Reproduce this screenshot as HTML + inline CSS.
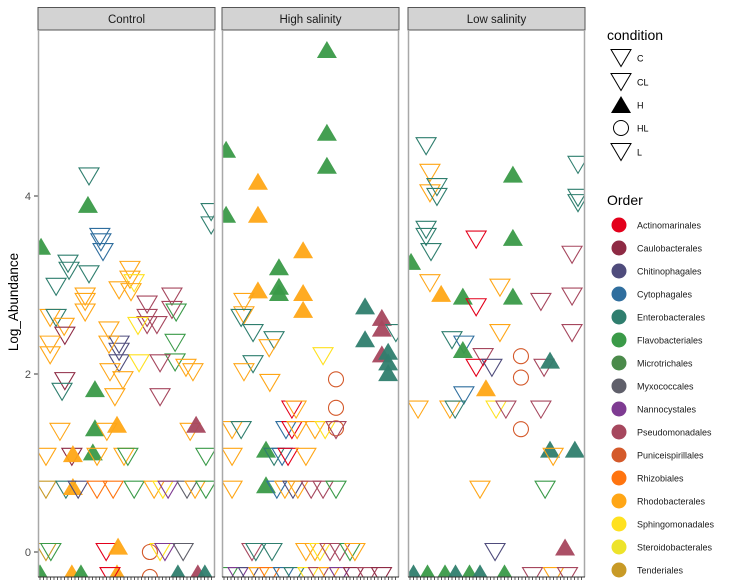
<!DOCTYPE html>
<html><head><meta charset="utf-8">
<style>body{margin:0;background:#fff}svg{display:block;font-family:"Liberation Sans",sans-serif}</style>
</head><body>
<svg id="chart" width="732" height="588" viewBox="0 0 732 588" xmlns="http://www.w3.org/2000/svg"></svg>
<script>
const panels = ["Control","High salinity","Low salinity"];
const orders = ["Actinomarinales","Caulobacterales","Chitinophagales","Cytophagales","Enterobacterales","Flavobacteriales","Microtrichales","Myxococcales","Nannocystales","Pseudomonadales","Puniceispirillales","Rhizobiales","Rhodobacterales","Sphingomonadales","Steroidobacterales","Tenderiales"];
const orderCodes = ["A","Ca","Ch","Cy","E","F","Mi","My","N","P","Pu","Rz","Rb","S","St","T"];
const conditions = ["C","CL","H","HL","L"];
const yTicks = [0,2,4];
const pointPanel = [];
const pointSample = [];
const pointValue = [];
const pointCond = [];
const pointOrder = [];
const raw = [
[0,14,4.22,"C","E"],[0,13.7,3.9,"H","F"],[0,0.3,3.43,"H","F"],[0,48.9,3.82,"C","E"],[0,48.9,3.67,"C","E"],
[0,17.1,3.54,"C","Cy"],[0,17.4,3.48,"C","Cy"],[0,18,3.37,"C","Cy"],[0,8,3.24,"C","E"],[0,8.3,3.16,"C","E"],
[0,14,3.12,"C","E"],[0,4.6,2.98,"C","E"],[0,25.7,3.17,"C","Rb"],[0,25.7,3.06,"C","Rb"],[0,26.9,3.02,"C","S"],
[0,22.6,2.94,"C","Rb"],[0,26,2.92,"C","Rb"],[0,12.9,2.87,"C","Rb"],[0,12.9,2.81,"C","Rb"],[0,12.9,2.69,"C","Rb"],
[0,30.6,2.78,"C","P"],[0,30.6,2.63,"C","P"],[0,30.6,2.55,"C","P"],[0,37.7,2.87,"C","P"],[0,37.7,2.72,"C","P"],
[0,38.9,2.69,"C","F"],[0,33.4,2.55,"C","P"],[0,2.9,2.63,"C","Rb"],[0,4.6,2.63,"C","E"],[0,6.9,2.53,"C","Rb"],
[0,7.1,2.43,"C","Ca"],[0,19.7,2.49,"C","Rb"],[0,28,2.54,"C","S"],[0,22.6,2.33,"C","Ch"],[0,22.6,2.25,"C","Ch"],
[0,22.6,2.12,"C","Ch"],[0,28.3,2.12,"C","S"],[0,19.7,2.33,"C","Rb"],[0,2.9,2.33,"C","Rb"],[0,2.9,2.21,"C","Rb"],
[0,38.6,2.35,"C","F"],[0,38.6,2.13,"C","F"],[0,34.3,2.12,"C","P"],[0,41.7,2.07,"C","Rb"],[0,43.7,2.02,"C","Rb"],
[0,20,2.02,"C","Rb"],[0,23.7,1.93,"C","Rb"],[0,7.1,1.92,"C","Ca"],[0,6.3,1.8,"C","E"],[0,15.7,1.83,"H","F"],
[0,21.4,1.74,"C","Rb"],[0,34.3,1.74,"C","P"],[0,5.7,1.35,"C","Rb"],[0,15.7,1.39,"H","F"],[0,22,1.43,"H","Rb"],
[0,19.1,1.35,"C","Rb"],[0,42.9,1.35,"C","Rb"],[0,44.6,1.43,"H","P"],
[0,1.7,1.07,"C","Rb"],[0,9.1,1.07,"C","Ca"],[0,9.4,1.1,"H","Rb"],[0,15.1,1.12,"H","F"],[0,16.3,1.07,"C","Rb"],
[0,24,1.07,"C","Rb"],[0,25.1,1.07,"C","F"],[0,47.4,1.07,"C","F"],
[0,1.7,0.7,"C","T"],[0,7.4,0.7,"C","E"],[0,9.4,0.73,"H","Rb"],[0,10.9,0.7,"C","Ch"],[0,16.3,0.7,"C","Rz"],
[0,20.9,0.7,"C","Rz"],[0,26.9,0.7,"C","F"],[0,32.6,0.7,"C","Rb"],[0,35.1,0.7,"C","S"],[0,36.6,0.7,"C","N"],
[0,42,0.7,"C","My"],[0,44.3,0.7,"C","Rb"],[0,47.4,0.7,"C","F"],
[0,1.7,0,"C","T"],[0,3.1,0,"C","F"],[0,18.9,0,"C","A"],[0,22.3,0.06,"H","Rb"],[0,31.4,0,"HL","Pu"],
[0,34.3,0,"C","S"],[0,35.7,0,"C","N"],[0,40.9,0,"C","My"],
[0,0,-0.24,"H","F"],[0,9.1,-0.24,"H","Rb"],[0,11.7,-0.24,"H","F"],[0,22,-0.24,"H","Rb"],[0,20,-0.27,"C","A"],
[0,31.4,-0.28,"HL","Pu"],[0,39.4,-0.24,"H","E"],[0,45.1,-0.24,"H","P"],[0,47.1,-0.24,"H","E"],
[1,29.4,5.64,"H","F"],[1,29.4,4.71,"H","F"],[1,29.4,4.34,"H","F"],[1,0.6,4.52,"H","F"],[1,0.6,3.79,"H","F"],
[1,9.7,4.16,"H","Rb"],[1,9.7,3.79,"H","Rb"],[1,22.6,3.39,"H","Rb"],[1,15.7,3.2,"H","F"],[1,15.7,2.98,"H","F"],
[1,15.7,2.91,"H","F"],[1,9.7,2.94,"H","Rb"],[1,22.6,2.91,"H","Rb"],[1,22.6,2.72,"H","Rb"],
[1,5.7,2.81,"C","Rb"],[1,5.7,2.66,"C","Rb"],[1,4.9,2.63,"C","E"],[1,8.3,2.46,"C","E"],[1,14.3,2.38,"C","E"],
[1,12.9,2.29,"C","Rb"],[1,8.3,2.11,"C","E"],[1,5.7,2.02,"C","Rb"],[1,28.3,2.2,"C","S"],[1,13.1,1.9,"C","Rb"],
[1,32,1.94,"HL","Pu"],[1,32,1.62,"HL","Pu"],[1,32,1.39,"HL","Pu"],[1,19.4,1.6,"C","A"],[1,20.6,1.6,"C","Rb"],
[1,2.3,1.37,"C","Rb"],[1,4.9,1.37,"C","E"],[1,17.7,1.37,"C","Cy"],[1,19.4,1.37,"C","A"],[1,20.9,1.37,"C","Rb"],
[1,26,1.37,"C","Rb"],[1,28.9,1.37,"C","S"],[1,32,1.37,"C","P"],
[1,40.3,2.76,"H","E"],[1,40.3,2.39,"H","E"],[1,45.1,2.63,"H","P"],[1,45.1,2.51,"H","P"],[1,45.1,2.22,"H","P"],
[1,46.9,2.25,"H","E"],[1,46.9,2.13,"H","E"],[1,46.9,2.01,"H","E"],[1,49.1,2.46,"C","E"],
[1,2.3,1.07,"C","Rb"],[1,12,1.15,"H","F"],[1,14.3,1.07,"C","E"],[1,16.6,1.07,"C","Cy"],[1,18.3,1.07,"C","A"],[1,23.4,1.07,"C","Rb"],
[1,2.3,0.7,"C","Rb"],[1,12,0.75,"H","F"],[1,15.1,0.7,"C","Cy"],[1,17.4,0.7,"C","Rb"],[1,19.7,0.7,"C","Ch"],
[1,21.1,0.7,"C","Rb"],[1,24.9,0.7,"C","P"],[1,28.3,0.7,"C","P"],[1,32,0.7,"C","F"],
[1,8,0,"C","P"],[1,9.1,0,"C","E"],[1,13.7,0,"C","E"],[1,23.4,0,"C","Rb"],[1,26,0,"C","Rb"],[1,27.4,0,"C","S"],
[1,30.3,0,"C","P"],[1,33.1,0,"C","P"],[1,36,0,"C","F"],[1,37.4,0,"C","Rb"],
[1,1,-0.27,"C","F"],[1,4,-0.27,"C","N"],[1,7,-0.27,"C","Ch"],[1,10,-0.27,"C","Rb"],[1,13,-0.27,"C","Rz"],
[1,17,-0.27,"C","Cy"],[1,20,-0.27,"C","E"],[1,24,-0.27,"C","S"],[1,27,-0.27,"C","P"],[1,30,-0.27,"C","Rb"],
[1,33,-0.27,"C","N"],[1,37,-0.27,"C","Ca"],[1,41,-0.27,"C","P"],[1,45,-0.27,"C","Ca"],
[2,4.6,4.56,"C","E"],[2,48,4.35,"C","E"],[2,48,3.98,"C","E"],[2,48,3.92,"C","E"],[2,5.7,4.26,"C","Rb"],
[2,5.7,4.03,"C","Rb"],[2,7.7,4.1,"C","E"],[2,7.7,3.99,"C","E"],[2,4.6,3.62,"C","E"],[2,4.6,3.54,"C","E"],
[2,6,3.37,"C","E"],[2,29.4,4.24,"H","F"],[2,29.4,3.53,"H","F"],[2,18.9,3.51,"C","A"],[2,46.3,3.34,"C","P"],
[2,0.3,3.26,"H","F"],[2,5.7,3.02,"C","Rb"],[2,8.9,2.9,"H","Rb"],[2,15.1,2.87,"H","F"],[2,18.9,2.75,"C","A"],
[2,29.4,2.87,"H","F"],[2,25.7,2.97,"C","Rb"],[2,37.4,2.81,"C","P"],[2,46.3,2.87,"C","P"],[2,25.7,2.46,"C","Rb"],
[2,46.3,2.46,"C","P"],[2,12,2.38,"C","E"],[2,15.4,2.33,"C","Cy"],[2,15.1,2.27,"H","F"],[2,20.9,2.19,"C","P"],
[2,31.7,2.2,"HL","Pu"],[2,18.9,2.07,"C","A"],[2,23.4,2.07,"C","Ch"],[2,38.3,2.07,"C","P"],[2,40,2.15,"H","E"],
[2,31.7,1.96,"HL","Pu"],[2,31.7,1.38,"HL","Pu"],[2,15.4,1.76,"C","Cy"],[2,21.7,1.84,"H","Rb"],
[2,2.3,1.6,"C","Rb"],[2,11.4,1.6,"C","Rb"],[2,12.9,1.6,"C","E"],[2,24.6,1.6,"C","S"],[2,27.4,1.6,"C","P"],[2,37.4,1.6,"C","P"],
[2,40,1.15,"H","E"],[2,47.1,1.15,"H","E"],[2,40.9,1.07,"C","Rb"],[2,20,0.7,"C","Rb"],[2,38.6,0.7,"C","F"],
[2,24.3,0,"C","Ch"],[2,44.3,0.05,"H","P"],
[2,1,-0.24,"H","E"],[2,5,-0.24,"H","F"],[2,10,-0.24,"H","F"],[2,13,-0.24,"H","E"],[2,17,-0.24,"H","F"],
[2,20,-0.24,"H","E"],[2,27,-0.24,"H","F"],[2,35,-0.27,"C","P"],[2,41,-0.27,"C","Rb"],[2,45,-0.27,"C","P"]
];
raw.forEach(r=>{pointPanel.push(r[0]);pointSample.push(r[1]);pointValue.push(r[2]);pointCond.push(r[3]);pointOrder.push(r[4]);});

const colors = ["#E3001B","#8E2A44","#4F4C7C","#2F6E9E","#2F7E6E","#3A9A48","#4A8A4A","#5F5F6A","#7E3B92","#A6475E","#D4592A","#FF740F","#FFA616","#FFE11F","#EDE32A","#C89A26"];
const svgEl = document.getElementById('chart');
const NS = "http://www.w3.org/2000/svg";
function mk(tag, attrs, parent){const e=document.createElementNS(NS,tag);for(const k in attrs)e.setAttribute(k,attrs[k]);(parent||svgEl).appendChild(e);return e;}

const panelLeft = [38,222,408], panelW = 177, panelTop = 30, panelBottom = 577;
function yS(v){return 552 - v*89;}
function xS(p,i){return panelLeft[p] + 2 + i*3.5;}

const defs = mk('defs',{});
panelLeft.forEach((L,p)=>{
  const cp = mk('clipPath',{id:'clip'+p},defs);
  mk('rect',{x:L,y:panelTop,width:panelW,height:panelBottom-panelTop},cp);
});

const yAxis = mk('g',{});


yTicks.forEach(t=>{
  mk('line',{x1:34,x2:38,y1:yS(t),y2:yS(t),stroke:'#333','stroke-width':1},yAxis);
  const tx = mk('text',{x:31,y:yS(t)+4,'text-anchor':'end','font-size':11,fill:'#4d4d4d'},yAxis);
  tx.textContent = t;
  
  
});
const yt = mk('text',{x:0,y:0,transform:'translate(18,302) rotate(-90)','text-anchor':'middle','font-size':13.5,fill:'#000'});
yt.textContent = 'Log_Abundance';



const panelPts = [];
panels.forEach((pname,p)=>{
  const g = mk('g',{});
  
  
  const L = panelLeft[p];
  mk('rect',{x:L,y:7.5,width:panelW,height:22.5,fill:'#d3d3d3',stroke:'#555','stroke-width':1},g);
  const st = mk('text',{x:L+panelW/2,y:23,'text-anchor':'middle','font-size':11.5,fill:'#1a1a1a'},g);
  st.textContent = pname;
  
  
  const pg = mk('g',{'clip-path':'url(#clip'+p+')'},g);
  
  
  panelPts.push(pg);
  mk('line',{x1:L+0.5,x2:L+0.5,y1:panelTop,y2:panelBottom,stroke:'#a8a8a8','stroke-width':1.5},g);
  mk('line',{x1:L+panelW-0.5,x2:L+panelW-0.5,y1:panelTop,y2:panelBottom,stroke:'#a8a8a8','stroke-width':1.5},g);
  mk('line',{x1:L,x2:L+panelW,y1:panelBottom,y2:panelBottom,stroke:'#333','stroke-width':1},g);
  for(let i=0;i<50;i++){mk('line',{x1:xS(p,i),x2:xS(p,i),y1:panelBottom,y2:panelBottom+3,stroke:'#333','stroke-width':0.8},g);}
});

for(let k=0;k<pointValue.length;k++){
  const pts = panelPts[pointPanel[k]];
  const cx = xS(pointPanel[k],pointSample[k]), cy = yS(pointValue[k]);
  const col = colors[orderCodes.indexOf(pointOrder[k])];
  const c = pointCond[k];
  let e;
  if(c==='H'){
    e = mk('polygon',{points:`${cx-10},${cy+8} ${cx+10},${cy+8} ${cx},${cy-9}`,fill:col,'fill-opacity':0.95},pts);
  } else if(c==='HL'){
    e = mk('circle',{cx:cx,cy:cy,r:7.5,fill:'none',stroke:col,'stroke-width':1.1},pts);
  } else {
    e = mk('polygon',{points:`${cx-10},${cy-8.5} ${cx+10},${cy-8.5} ${cx},${cy+8.5}`,fill:'none',stroke:col,'stroke-width':1.1},pts);
  }
  
  
}

const lg = mk('g',{});


const lt = mk('text',{x:607,y:40,'font-size':14,fill:'#000'},lg); lt.textContent='condition';
const cY=[58,82,105,128,152];
conditions.forEach((c,i)=>{
  const cx=621, cy=cY[i];
  if(c==='H') mk('polygon',{points:`${cx-10},${cy+8} ${cx+10},${cy+8} ${cx},${cy-9}`,fill:'#000'},lg);
  else if(c==='HL') mk('circle',{cx:cx,cy:cy,r:7.5,fill:'none',stroke:'#000','stroke-width':1},lg);
  else mk('polygon',{points:`${cx-10},${cy-8.5} ${cx+10},${cy-8.5} ${cx},${cy+8.5}`,fill:'none',stroke:'#000','stroke-width':1},lg);
  const t=mk('text',{x:637,y:cy+3.5,'font-size':9,fill:'#000'},lg); t.textContent=c;
  
  
});
const og = mk('g',{});


const ot = mk('text',{x:607,y:205,'font-size':14,fill:'#000'},og); ot.textContent='Order';
orders.forEach((o,i)=>{
  const cy=225+i*23;
  mk('circle',{cx:619,cy:cy,r:7.5,fill:colors[i]},og);
  const t=mk('text',{x:637,y:cy+3.5,'font-size':9,fill:'#1a1a1a'},og); t.textContent=o;
  
  
});
</script>
</body></html>
